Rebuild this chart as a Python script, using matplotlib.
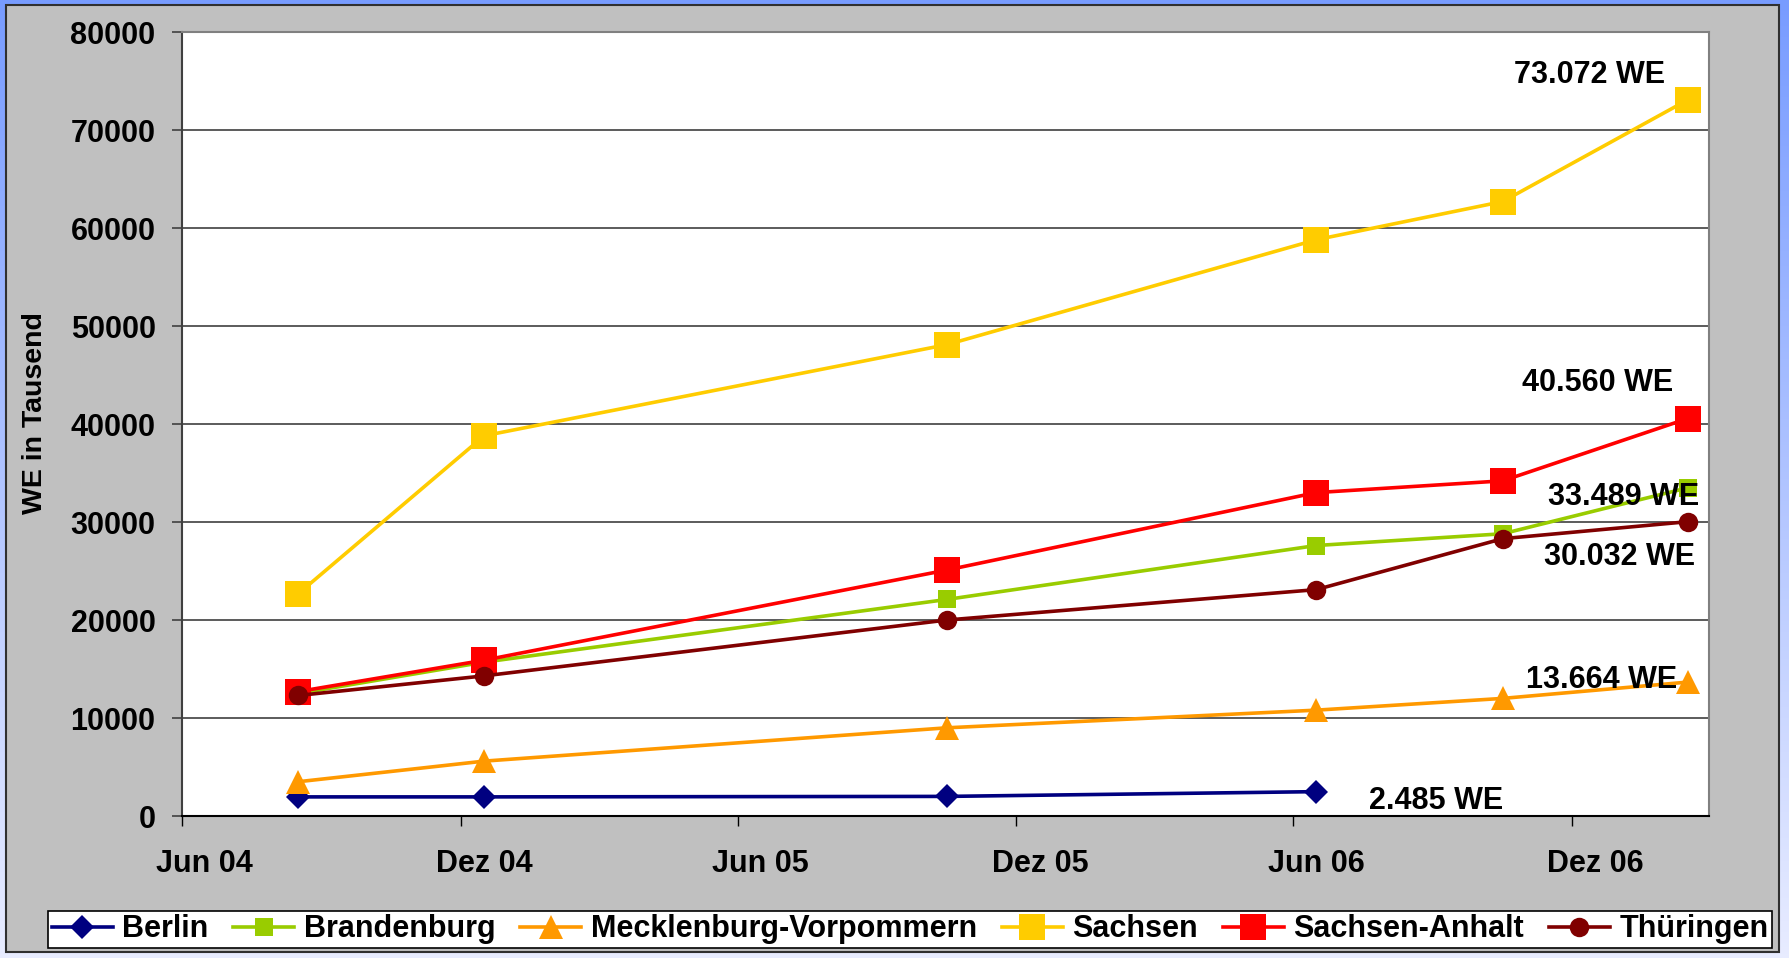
import matplotlib
matplotlib.use("Agg")
import matplotlib.pyplot as plt
import matplotlib.dates as mdates
from matplotlib.patches import Rectangle
from matplotlib.ticker import MultipleLocator, FixedLocator, FixedFormatter, NullFormatter
import numpy as np
import pandas as pd

# data (WE = Wohneinheiten)
months = ["2004-08", "2004-12", "2005-10", "2006-06", "2006-10", "2007-02"]
berlin = [1950, 1950, 2000, 2485]
brandenburg = [12500, 15700, 22100, 27600, 28800, 33489]
meck_vorp = [3500, 5600, 9000, 10800, 12000, 13664]
sachsen = [22700, 38800, 48100, 58800, 62700, 73072]
sachsen_anhalt = [12700, 15900, 25100, 33000, 34200, 40560]
thueringen = [12300, 14300, 20000, 23100, 28300, 30032]

series_names = ["Berlin", "Brandenburg", "Mecklenburg-Vorpommern",
                "Sachsen", "Sachsen-Anhalt", "Thüringen"]

tick_months = ["2004-06", "2004-12", "2005-06", "2005-12", "2006-06", "2006-12"]
tick_labels = ["Jun 04", "Dez 04", "Jun 05", "Dez 05", "Jun 06", "Dez 06"]
axis_start, axis_end = "2004-06", "2007-03"

end_labels = ["2.485 WE", "33.489 WE", "13.664 WE", "73.072 WE", "40.560 WE", "30.032 WE"]


def mid_month(m):
  p = pd.Period(m, "M")
  return mdates.date2num((p.start_time + (p.end_time - p.start_time) / 2).to_pydatetime())


def month_start(m):
  return mdates.date2num(pd.Period(m, "M").start_time.to_pydatetime())


W, H = 1789, 958
plt.rcParams["font.family"] = ["Liberation Sans", "DejaVu Sans"]
plt.rcParams["font.weight"] = "bold"

fig = plt.figure(figsize=(W / 100, H / 100), dpi=100)

# blue gradient frame + grey chart area
bg = fig.add_axes([0, 0, 1, 1], zorder=-10)
grad = np.linspace(0, 1, 256).reshape(-1, 1)
top_c = np.array([0x78, 0x9C, 0xFF]) / 255
bot_c = np.array([0xE8, 0xEC, 0xFF]) / 255
img = top_c[None, None, :] * (1 - grad[:, :, None]) + bot_c[None, None, :] * grad[:, :, None]
bg.imshow(img, aspect="auto", extent=[0, 1, 0, 1], origin="upper")
bg.add_patch(Rectangle((6 / W, 1 - 952 / H), (1779 - 6) / W, (952 - 5) / H,
                       facecolor="#C0C0C0", edgecolor="#303030", lw=1.5))
bg.set_xlim(0, 1)
bg.set_ylim(0, 1)
bg.axis("off")

ax = fig.add_axes([182 / W, 1 - 816 / H, (1709 - 182) / W, (816 - 32) / H])
ax.set_facecolor("white")

x = [mid_month(m) for m in months]
styles = [
  dict(color="#000080", marker="D", ms=12),
  dict(color="#99CC00", marker="s", ms=13.5),
  dict(color="#FF9900", marker="^", ms=17),
  dict(color="#FFCC00", marker="s", ms=18.5),
  dict(color="#FF0000", marker="s", ms=18.5),
  dict(color="#800000", marker="o", ms=14),
]
all_data = [berlin, brandenburg, meck_vorp, sachsen, sachsen_anhalt, thueringen]

handles = []
for name, vals, st in zip(series_names, all_data, styles):
  h, = ax.plot(x[:len(vals)], vals, color=st["color"], lw=2.6, marker=st["marker"],
               ms=st["ms"], markeredgewidth=0, label=name, zorder=3, clip_on=False)
  handles.append(h)

# end-of-series labels (offset in pixels from the last point)
offsets = [(53, -17, "left"), (12, -17, "right"), (-10, -6, "right"),
           (-23, 17, "right"), (-14, 28, "right"), (7, -43, "right")]
for vals, txt, (dx, dy, ha) in zip(all_data, end_labels, offsets):
  xi = x[len(vals) - 1]
  ax.annotate(txt, (xi, vals[-1]), xytext=(dx, dy), textcoords="offset pixels",
              ha=ha, va="baseline", fontsize=22, fontweight="bold", zorder=5)

# axes
ax.set_xlim(month_start(axis_start), month_start(axis_end))
ax.set_ylim(0, 80000)
ax.yaxis.set_major_locator(MultipleLocator(10000))
ax.yaxis.set_major_formatter(plt.FuncFormatter(lambda v, p: f"{int(v)}"))
ax.grid(axis="y", color="#404040", lw=1.2)
ax.set_axisbelow(True)

ax.xaxis.set_major_locator(FixedLocator([month_start(m) for m in tick_months]))
ax.xaxis.set_major_formatter(NullFormatter())
ax.xaxis.set_minor_locator(FixedLocator([mid_month(m) for m in tick_months]))
ax.xaxis.set_minor_formatter(FixedFormatter(tick_labels))
ax.tick_params(axis="x", which="major", direction="out", length=7, width=1, color="black")
ax.tick_params(axis="x", which="minor", length=0, pad=24, labelsize=22)
ax.tick_params(axis="y", direction="out", length=7, width=1.2, color="#404040",
               pad=12, labelsize=22)

for side in ["top", "right"]:
  ax.spines[side].set_color("#808080")
  ax.spines[side].set_linewidth(1.5)
ax.spines["left"].set_color("#404040")
ax.spines["left"].set_linewidth(1.5)
ax.spines["bottom"].set_color("black")
ax.spines["bottom"].set_linewidth(1.5)

fig.text(35 / W, 1 - 413 / H, "WE in Tausend", rotation=90, ha="center", va="center",
         fontsize=20.5, fontweight="bold")

leg = fig.legend(handles=handles, labels=series_names, loc="lower left",
                 bbox_to_anchor=(48 / W, 1 - 948 / H, (1772 - 48) / W, 43 / H),
                 mode="expand", ncol=6, fontsize=22, frameon=True, fancybox=False,
                 edgecolor="black", framealpha=1, borderaxespad=0, borderpad=0.12,
                 handlelength=2.0, handletextpad=0.3, columnspacing=0.5)
leg.get_frame().set_linewidth(1.2)

fig.savefig("out.png", dpi=100, facecolor=fig.get_facecolor())
